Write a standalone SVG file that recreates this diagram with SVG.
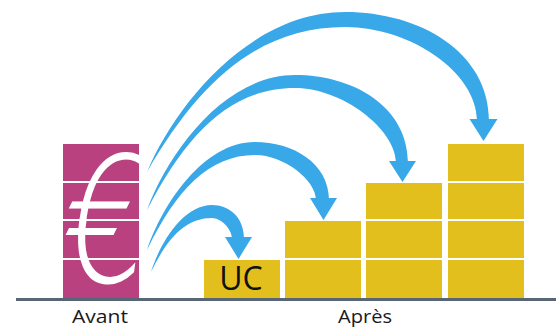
<svg xmlns="http://www.w3.org/2000/svg" width="556" height="331" viewBox="0 0 556 331">
<style>
.p{fill:#b9417f}
.y{fill:#e3bf1e}
.a{fill:#39a8e8}
.lbl{font-family:"Open Sans","Liberation Sans",sans-serif;font-size:19px;fill:#1a1a1a}
.uc{font-family:"Open Sans","Liberation Sans",sans-serif;font-size:32px;fill:#111}
</style>
<rect width="556" height="331" fill="#fff"/>
<g id="avant">
<rect class="p" x="63" y="144" width="76" height="37"/>
<rect class="p" x="63" y="183" width="76" height="36"/>
<rect class="p" x="63" y="221" width="76" height="37"/>
<rect class="p" x="63" y="260" width="76" height="38"/>
<text transform="translate(98,282) skewX(-8) scale(0.8,1.03)" text-anchor="middle" font-family="DejaVu Sans, sans-serif" font-weight="200" font-size="170" fill="#fff">€</text>
</g>
<g id="uc">
<rect class="y" x="204" y="260" width="76" height="38"/>
<text class="uc" x="241" y="290" text-anchor="middle">UC</text>
</g>
<g id="col2">
<rect class="y" x="285" y="221" width="76" height="37"/>
<rect class="y" x="285" y="260" width="76" height="38"/>
</g>
<g id="col3">
<rect class="y" x="366" y="183" width="76" height="36"/>
<rect class="y" x="366" y="221" width="76" height="37"/>
<rect class="y" x="366" y="260" width="76" height="38"/>
</g>
<g id="col4">
<rect class="y" x="448" y="144" width="76" height="37"/>
<rect class="y" x="448" y="183" width="76" height="36"/>
<rect class="y" x="448" y="221" width="76" height="37"/>
<rect class="y" x="448" y="260" width="76" height="38"/>
</g>
<rect id="baseline" x="16" y="298" width="540" height="3" fill="#586574"/>
<g id="labels">
<text class="lbl" x="72" y="323" textLength="56" lengthAdjust="spacingAndGlyphs">Avant</text>
<text class="lbl" x="338" y="323" textLength="54" lengthAdjust="spacingAndGlyphs">Après</text>
</g>
<g id="connectors">
<path class="a" d="M147,172 C175,105 250,12 345,12 C420,12 489,52 489,121 L477,121 C477,72 410,27 345,27 C260,27 200,80 147,172 Z"/>
<path class="a" d="M469.5,119 L497.5,119 L483.5,141 Z"/>
<path class="a" d="M147,210 C168,153 224,75 295,75 C354,75 408,107 408,163 L396,163 C396,129 342,88 295,88 C231,88 187,133 147,210 Z"/>
<path class="a" d="M389,161 L416,161 L402.5,182 Z"/>
<path class="a" d="M147,250 C162,205 203,142 255,142 C293,142 329,163 329,200 L316,200 C316,180 284,155 255,155 C209,155 176,190 147,250 Z"/>
<path class="a" d="M310,198 L337,198 L323.5,220 Z"/>
<path class="a" d="M151,272 C160,243 183,205 212,205 C229,205 244,217 244,239 L232,239 C232,229 221,218 212,218 C186,218 168,237 151,272 Z"/>
<path class="a" d="M225,237 L252,237 L238.5,259 Z"/>
</g>
</svg>
